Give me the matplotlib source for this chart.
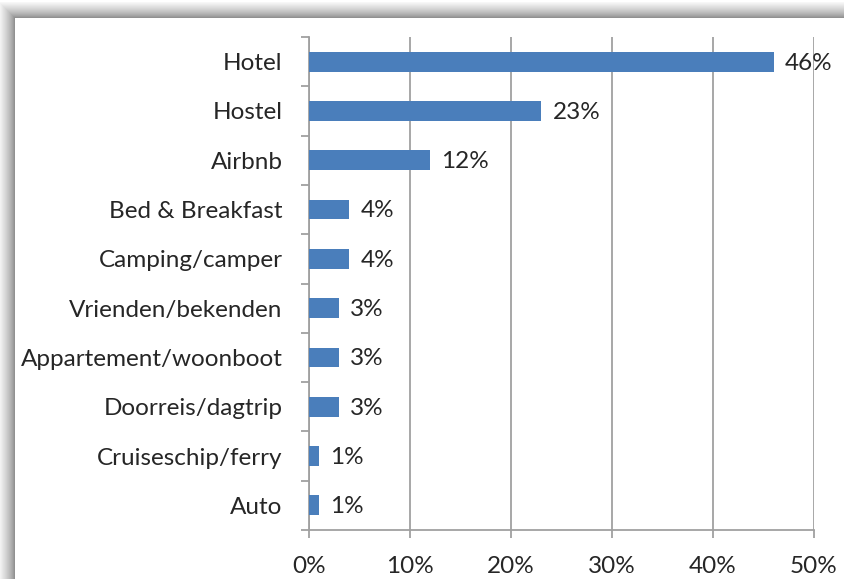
import numpy as np
import matplotlib.pyplot as plt
from matplotlib.patches import Rectangle
from matplotlib.ticker import FixedLocator

categories = ['Hotel', 'Hostel', 'Airbnb', 'Bed & Breakfast', 'Camping/camper',
              'Vrienden/bekenden', 'Appartement/woonboot', 'Doorreis/dagtrip',
              'Cruiseschip/ferry', 'Auto']
values = [46, 23, 12, 4, 4, 3, 3, 3, 1, 1]
xticks = [0, 10, 20, 30, 40, 50]

plt.rcParams['font.family'] = ['Lato', 'DejaVu Sans']
W, H = 845, 579
fs = 17.5
fig = plt.figure(figsize=(W / 100, H / 100), dpi=100)

# shadow frame (top and left)
left_px, top_px = 15, 18
for k in range(16, -1, -1):
    g = 0.50 + 0.47 * (k / 16) ** 0.7
    fig.patches.append(Rectangle(((left_px - k) / W, 0), 1, (H - top_px + k) / H,
                                 transform=fig.transFigure, facecolor=(g, g, g),
                                 edgecolor='none', zorder=-2))
fig.patches.append(Rectangle((left_px / W, 0), 1, (H - top_px) / H,
                             transform=fig.transFigure, facecolor='white',
                             edgecolor='none', zorder=-1))

ax = fig.add_axes([309 / W, 1 - 530 / H, (814 - 309) / W, (530 - 37) / H])
ax.set_facecolor('none')
ax.set_zorder(2)

y = np.arange(len(categories))
ax.barh(y, values, height=0.4, color='#4a7ebb', zorder=3)
for yi, v in zip(y, values):
    ax.annotate(f'{v}%', (v, yi), xytext=(8, -1), textcoords='offset points',
                va='center', ha='left', fontsize=fs, color='#262626')

ax.set_ylim(len(categories) - 0.5, -0.5)
ax.set_xlim(0, 50)
ax.set_xticks(xticks)
ax.set_xticklabels([f'{t}%' for t in xticks], fontsize=fs, color='#262626')
ax.set_yticks(y)
ax.set_yticklabels(categories, fontsize=fs, color='#262626')
ax.yaxis.set_minor_locator(FixedLocator(np.arange(len(categories) + 1) - 0.5))

grid_c = '#a0a0a0'
ax.grid(axis='x', color=grid_c, linewidth=1.3, zorder=0)
ax.tick_params(axis='y', which='major', length=0, pad=19)
ax.tick_params(axis='y', which='minor', length=6, width=1.3, color=grid_c)
ax.tick_params(axis='x', length=6, width=1.3, color=grid_c, pad=13)
for s in ['top', 'right']:
    ax.spines[s].set_visible(False)
for s in ['left', 'bottom']:
    ax.spines[s].set_color(grid_c)
    ax.spines[s].set_linewidth(1.3)

fig.savefig('out.png', dpi=100)
